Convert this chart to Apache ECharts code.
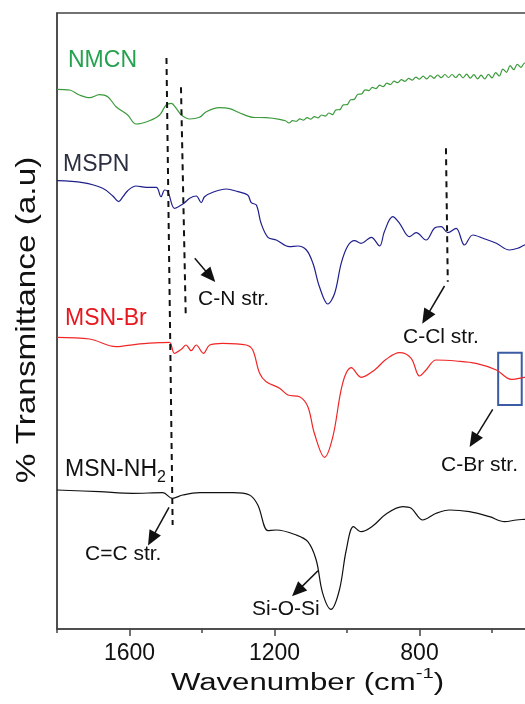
<!DOCTYPE html>
<html><head><meta charset="utf-8">
<script src="https://cdn.jsdelivr.net/npm/echarts@6/dist/echarts.min.js"></script>
<style>html,body{margin:0;padding:0;background:#fff}#c{width:525px;height:704px}</style>
</head><body><div id="c"></div>
<script>
const FONT = '"Liberation Sans", Arial, Helvetica, sans-serif';

// x axis ticks (wavenumber, cm-1)
const xMajorTicks = [1600, 1200, 800];
const xMinorTicks = [1800, 1400, 1000, 600];

// spectra: [wavenumber, offset transmittance (a.u.)]
const nmcn = [[1800,539.7],[1765,539],[1738,534],[1710,531.3],[1683,534.3],[1660,532.3],[1637,522.3],[1605,514],[1582,505],[1545,508.3],[1517,514],[1499,524],[1485,525.7],[1471,520.7],[1457,514],[1434,510],[1407,511.7],[1388,517.3],[1352,521.3],[1324,520.3],[1297,516.3],[1260,511.7],[1223,511.3],[1186,509.7],
[1170,508.3],[1160,506.0],[1150,508.4],[1140,507.6],[1130,510.1],[1120,508.8],[1110,511.3],[1100,509.9],[1090,512.4],[1080,511.1],[1070,514],[1060,512.9],[1050,516],[1040,514.4],[1030,519.2],[1020,519.3],[1010,524.2],[1000,524.3],[990,529.2],[980,529.6],[970,534.7],[960,535],[950,539.2],[940,538.4],[930,541.6],[920,540.4],[910,543.8],[900,542.4],[890,545.8],[880,544.5],[870,547.9],[860,546.3],[850,549.4],[840,547.6],[830,550.6],[820,548.8],[810,551.8],[800,549.8],[790,552.8],[780,550.1],[770,553.4],[760,550.7],[750,554],[740,551.4],[730,554.5],[720,551.5],[710,554.5],[700,551.5],[690,554.8],[680,551.2],[670,554.8],[660,550.9],[650,554.4],[640,550.1],[630,553.8],[620,550],[610,554.6],[600,551.2],[590,556.4],[580,553],[570,559.9],[560,556.7],[550,563.4],[540,559.3],[530,564.7],[520,561.6],[510,566],[500,565]];

const mspn = [[1800,448.3],[1729,446.3],[1674,440.7],[1646,433],[1630,427.3],[1618,432.3],[1605,438.3],[1582,443],[1554,441.7],[1526,441.7],[1513,432.3],[1503,439],[1494,437.3],[1476,420.7],[1462,423],[1448,426.3],[1434,430.7],[1416,433],[1402,426.3],[1393,432.3],[1370,436.7],[1333,440],[1301,437.3],[1274,434],[1264,426.3],[1250,424],[1237,405.7],[1218,391.7],[1195,389],[1159,382.3],[1136,383],[1112,379],[1094,365.7],[1076,342.3],[1053,325],[1034,335.7],[1016,365.7],[998,383],[979,388.3],[961,385.7],[933,391.7],[910,383],[897,397.3],[874,412.3],[855,405.7],[828,392.3],[809,396.3],[782,389],[759,400.7],[740,402.3],[722,396.3],[699,400.7],[676,384],[653,394],[625,390.7],[588,385.7],[552,379],[529,380.7],[510,384],[500,385]];

const msnBr = [[1800,291.7],[1710,290],[1637,282.3],[1582,284.7],[1517,286.3],[1490,286.7],[1476,275.7],[1457,279.7],[1444,284],[1430,278.3],[1416,284],[1396,275.7],[1379,284],[1343,285.7],[1278,284],[1260,279],[1241,255.7],[1223,247.3],[1186,240.7],[1163,234],[1131,232.3],[1108,222.3],[1090,195.7],[1062,171.7],[1039,192.3],[1012,245.7],[988,261.3],[961,251.7],[924,259],[892,269.7],[855,276.3],[823,270.7],[800,253],[782,259],[754,269],[699,268],[644,265.7],[588,259],[547,249.7],[510,251.7],[500,252.5]];

const msnNH2 = [[1800,139],[1683,137.3],[1591,135.7],[1508,136.3],[1482,130.7],[1453,134],[1407,136.3],[1315,136.3],[1269,134],[1246,124],[1218,98.3],[1195,99],[1140,94],[1108,87.3],[1085,69],[1067,35.7],[1044,19.7],[1021,39],[1002,79],[982,102.3],[961,97.3],[929,103],[892,115],[846,122.3],[823,120.7],[791,109],[754,115.7],[717,119],[662,117.3],[607,112.3],[565,107.3],[533,109],[510,109.7],[500,110]];

const seriesNames = ['NMCN', 'MSPN', 'MSN-Br', 'MSN-NH2'];
const lineColors = ['#3b9a3b', '#1e1f8c', '#f02626', '#111111'];
const labelColors = ['#25a150', '#2c2f40', '#e8161e', '#111111'];

// annotation guides: dashed verticals [[wn, val], [wn, val]]
const dashedGuides = [
  [[1498, 571], [1481, 104]],
  [[1458, 541.7], [1445, 315.7]],
  [[727, 480.7], [722, 347.3]]
];
// arrows: [start, end]
const arrows = [
  [[1420, 370.7], [1377, 352.6]],
  [[731, 343], [782, 311.7]],
  [[598, 219.7], [651, 188.3]],
  [[1491, 121.7], [1539, 90.1]],
  [[1080, 58.3], [1137, 37.9]]
];
const cbrBox = [[583, 276.3], [518, 224]];

const markLineData = [];
dashedGuides.forEach(g => markLineData.push([
  {coord: g[0], symbol: 'none', lineStyle: {type: [6, 5], width: 2, color: '#111'}},
  {coord: g[1], symbol: 'none'}
]));
arrows.forEach(a => markLineData.push([
  {coord: a[0], symbol: 'none', lineStyle: {type: 'solid', width: 1.5, color: '#111'}},
  {coord: a[1], symbol: 'triangle', symbolSize: [13, 15]}
]));

const allData = [nmcn, mspn, msnBr, msnNH2];
const series = allData.map((d, i) => ({
  name: seriesNames[i], type: 'line', data: d, xAxisIndex: 0,
  showSymbol: false, symbol: 'none', smooth: 0.35,
  lineStyle: {color: lineColors[i], width: 1.2}, itemStyle: {color: lineColors[i]},
  animation: false, z: 3
}));
series[3].markLine = {silent: true, animation: false, label: {show: false}, symbol: ['none', 'none'], data: markLineData};
series[3].markArea = {silent: true, animation: false, itemStyle: {color: 'rgba(0,0,0,0)', borderColor: '#3b5ba5', borderWidth: 2},
  data: [[{coord: cbrBox[0]}, {coord: cbrBox[1]}]]};

function txt(text, x, y, size, color) {
  return {type: 'text', x: x, y: y, z: 10, style: {text: text, fontSize: size, fontFamily: FONT, fill: color, verticalAlign: 'middle', align: 'left'}};
}

const graphics = [
  txt(seriesNames[0], 68, 60.5, 23, labelColors[0]),
  txt(seriesNames[1], 63, 165, 23, labelColors[1]),
  txt(seriesNames[2], 65, 318.3, 23, labelColors[2]),
  {type: 'text', x: 65, y: 470, z: 10, style: {text: '{a|MSN-NH}{b|2}', verticalAlign: 'middle', align: 'left', fill: labelColors[3],
    rich: {a: {fontSize: 23, fontFamily: FONT, fill: labelColors[3]}, b: {fontSize: 16, fontFamily: FONT, fill: labelColors[3], padding: [16, 0, 0, 0]}}}},
  txt('C-N str.', 198, 299, 21, '#111'),
  txt('C-Cl str.', 403, 337.5, 21, '#111'),
  txt('C-Br str.', 441, 465.5, 21, '#111'),
  txt('C=C str.', 85, 554, 21, '#111'),
  txt('Si-O-Si', 252, 609, 21, '#111'),
  // x axis title
  {type: 'text', x: 307.5, y: 684, z: 10, scaleX: 1.355,
    style: {text: '{a|Wavenumber (cm}{s|-1}{a|)}', align: 'center', verticalAlign: 'middle', fill: '#111',
      rich: {a: {fontSize: 23, fontFamily: FONT, fill: '#111'}, s: {fontSize: 15, fontFamily: FONT, fill: '#111', padding: [0, 0, 20, 0]}}}},
  // y axis title
  {type: 'text', x: 27, y: 320, z: 10, rotation: Math.PI / 2, scaleX: 1.19,
    style: {text: '% Transmittance (a.u)', fontSize: 28, fontFamily: FONT, fill: '#111', align: 'center', verticalAlign: 'middle'}}
];

const chart = echarts.init(document.getElementById('c'), null, {renderer: 'canvas'});
chart.setOption({
  backgroundColor: '#fff',
  animation: false,
  grid: {left: 57, width: 507.5, top: 13, height: 616, outerBoundsMode: 'none', containLabel: false,
    show: true, borderColor: '#444', borderWidth: 1.5, backgroundColor: 'transparent'},
  xAxis: [{
    type: 'value', min: 400, max: 1800, interval: 400, inverse: true, position: 'bottom',
    axisLine: {show: true, lineStyle: {color: '#444', width: 1.5}},
    axisTick: {show: true, length: 7, customValues: xMajorTicks, lineStyle: {color: '#444', width: 1.5}},
    axisLabel: {show: true, customValues: xMajorTicks, fontSize: 23, fontFamily: FONT, color: '#111', margin: 13,
      formatter: v => String(v)},
    splitLine: {show: false}, minorTick: {show: false}
  }, {
    type: 'value', min: 400, max: 1800, interval: 400, inverse: true, position: 'bottom',
    axisLine: {show: false},
    axisTick: {show: true, length: 4, customValues: xMinorTicks, lineStyle: {color: '#444', width: 1.5}},
    axisLabel: {show: false}, splitLine: {show: false}
  }],
  yAxis: {
    type: 'value', min: 0, max: 616,
    axisLine: {show: true, lineStyle: {color: '#444', width: 1.5}},
    axisTick: {show: false}, axisLabel: {show: false}, splitLine: {show: false}
  },
  series: series,
  graphic: graphics
});
</script>
</body></html>
